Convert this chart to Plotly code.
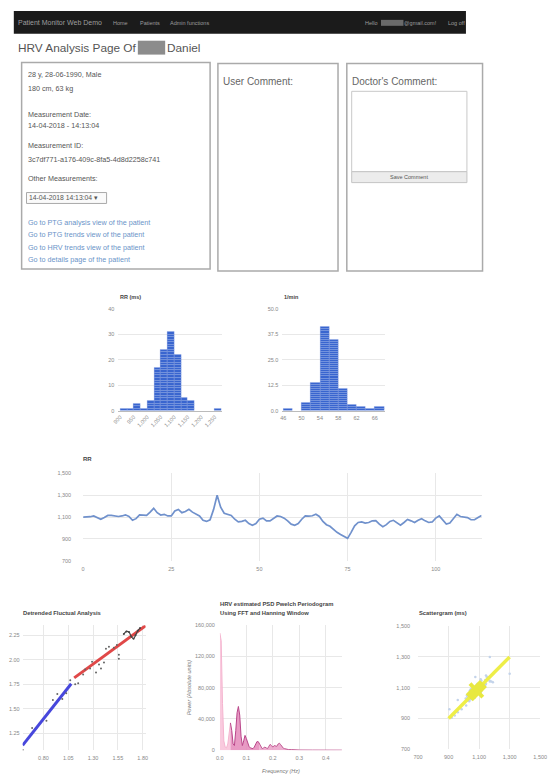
import plotly.graph_objects as go

W, H = 554, 784
FONT = "Liberation Sans, Arial, sans-serif"

# ---- RR interval series (ms), one value per beat ----
rr_ms = [1100, 1100, 1103, 1110, 1095, 1080, 1095, 1115, 1115, 1110,
         1105, 1110, 1120, 1105, 1070, 1085, 1120, 1118, 1115, 1145,
         1180, 1140, 1118, 1125, 1110, 1110, 1155, 1170, 1140, 1150,
         1170, 1145, 1125, 1110, 1070, 1060, 1075, 1170, 1300, 1190,
         1135, 1125, 1115, 1080, 1055, 1060, 1070, 1040, 1025, 1040,
         1080, 1090, 1065, 1065, 1090, 1110, 1105, 1090, 1065, 1035,
         1025, 1040, 1080, 1110, 1108, 1112, 1125, 1105, 1060, 1030,
         1015, 985, 960, 940, 920, 905, 960, 1020, 1050, 1055,
         1045, 1050, 1065, 1068, 1035, 1012, 1030, 1060, 1070, 1045,
         1025, 1050, 1078, 1065, 1050, 1070, 1085, 1065, 1050, 1055,
         1090, 1110, 1070, 1035, 1045, 1090, 1125, 1105, 1098, 1095,
         1075, 1075, 1095, 1115]
rr_beat = list(range(len(rr_ms)))

# ---- RR histogram (bucket left edges in ms, bucket width 25) ----
rr_bucket_left = [900, 925, 950, 975, 1000, 1025, 1050, 1075, 1100, 1125,
                  1150, 1175, 1200, 1225, 1250]
rr_bucket_count = [1, 1, 3, 1, 4, 17, 24, 31, 22, 5, 4, 0, 0, 0, 1]
rr_bucket_width = 25
rr_hist_ticks = [900, 950, 1000, 1050, 1100, 1150, 1200, 1250]
rr_hist_ticktext = ["900", "950", "1,000", "1,050", "1,100", "1,150", "1,200", "1,250"]

# ---- Heart-rate histogram (bucket left edges in 1/min, width 2) ----
hr_bucket_left = [46, 48, 50, 52, 54, 56, 58, 60, 62, 64, 66]
hr_bucket_count = [1, 0, 4, 14, 41, 35, 11, 3, 2, 1, 2]
hr_bucket_width = 2

# ---- Detrended fluctuation analysis (log n, log F(n)) ----
dfa_logn = [0.594, 0.686, 0.83, 0.895, 0.94, 0.99, 1.03, 1.07, 1.12, 1.15,
            1.20, 1.22, 1.27, 1.29, 1.33, 1.36, 1.38, 1.41, 1.43, 1.46,
            1.51, 1.54, 1.56, 1.56]
dfa_logf = [1.08, 1.307, 1.38, 1.59, 1.65, 1.60, 1.66, 1.79, 1.75, 1.76,
            1.85, 1.90, 1.91, 1.98, 1.87, 1.95, 1.91, 1.97, 2.11, 2.13,
            2.12, 2.15, 2.05, 2.01]
dfa_tail_logn = [1.61, 1.636, 1.662, 1.685, 1.708, 1.728, 1.751, 1.774]
dfa_tail_logf = [2.26, 2.287, 2.28, 2.236, 2.213, 2.247, 2.294, 2.321]
alpha1_logn = [0.59, 1.08]
alpha1_logf = [1.13, 1.755]
alpha2_logn = [1.11, 1.83]
alpha2_logf = [1.815, 2.345]

# ---- Welch PSD estimate (Hz, absolute units) ----
psd_freq = [0.000, 0.005, 0.010, 0.015, 0.020, 0.025, 0.030, 0.035, 0.040, 0.045,
            0.050, 0.055, 0.060, 0.065, 0.070, 0.075, 0.080, 0.085, 0.090, 0.095,
            0.100, 0.105, 0.110, 0.115, 0.120, 0.125, 0.130, 0.135, 0.140, 0.145,
            0.150, 0.155, 0.160, 0.165, 0.170, 0.175, 0.180, 0.185, 0.190, 0.195,
            0.200, 0.205, 0.210, 0.215, 0.220, 0.225, 0.230, 0.235, 0.240, 0.245,
            0.250, 0.255, 0.260, 0.270, 0.280, 0.300, 0.350, 0.400, 0.461]
psd_power = [150000, 140000, 60000, 12000, 4000, 3000, 8000, 22000, 35000, 25000,
             8000, 6000, 25000, 48000, 56000, 45000, 18000, 6000, 12000, 19000,
             15000, 8000, 5000, 3000, 2000, 2000, 4000, 8000, 11000, 11000,
             8000, 4000, 2000, 3000, 4000, 3000, 2000, 5000, 7500, 6000,
             4000, 6000, 5000, 5000, 8000, 9000, 7000, 4000, 2500, 2000,
             1500, 1000, 800, 800, 500, 300, 200, 100, 100]
band_vlf_end = 0.04
band_lf_end = 0.15

# ---- Poincare scattergram: RR(n) against RR(n+1) ----
poin_x = rr_ms[:-1]
poin_y = rr_ms[1:]
identity_ms = [900, 1300]
sd1_x = [1040, 1124]
sd1_y = [1126, 1039]
sd2_core = [1035, 1128]


def fx(x):
    return x / W


def fy(y):
    return 1 - y / H


annotations = []
shapes = []


def text(x, y, s, size=7.5, color="#555", anchor="left", **kw):
    annotations.append(dict(
        x=fx(x), y=fy(y), xref="paper", yref="paper", text=s, showarrow=False,
        xanchor=anchor, yanchor="middle", borderpad=0,
        font=dict(size=size, color=color, family=FONT), **kw))


def rect(x0, y0, x1, y1, line="#aaa", width=1.5, fill="rgba(0,0,0,0)"):
    shapes.append(dict(type="rect", xref="paper", yref="paper",
                       x0=fx(x0), x1=fx(x1), y0=fy(y1), y1=fy(y0),
                       line=dict(color=line, width=width), fillcolor=fill,
                       layer="below"))


# ---------- page chrome ----------
rect(8, 8, 471, 31, line="#1b1b1b", width=0, fill="#1b1b1b")
text(11, 20, "Patient Monitor Web Demo", size=7, color="#9d9d9d")
text(109, 20, "Home", size=5.5, color="#9d9d9d")
text(136, 20, "Patients", size=5.5, color="#9d9d9d")
text(167, 20, "Admin functions", size=5.5, color="#9d9d9d")
text(367, 20, "Hello", size=5.5, color="#9d9d9d")
rect(384, 17, 407, 23, line="#6a6a6a", width=0, fill="#6a6a6a")
text(407, 20, "@gmail.com!", size=5.5, color="#9d9d9d")
text(452, 20, "Log off", size=5.5, color="#9d9d9d")

text(11, 45, "HRV Analysis Page Of", size=11.8, color="#555")
rect(135, 38, 163, 52, line="#8c8c8c", width=0, fill="#8c8c8c")
text(164, 45, "Daniel", size=11.8, color="#555")

# patient info card
rect(16, 60, 209, 268)
info_lines = [
    (72, "28 y, 28-06-1990, Male"),
    (86, "180 cm, 63 kg"),
    (112, "Measurement Date:"),
    (123, "14-04-2018 - 14:13:04"),
    (144, "Measurement ID:"),
    (158, "3c7df771-a176-409c-8fa5-4d8d2258c741"),
    (177, "Other Measurements:"),
]
for yy, s in info_lines:
    text(21, yy, s, size=7.2, color="#555")
rect(21, 191, 103, 202, line="#aaa", width=1, fill="#fafafa")
text(23, 196.5, "14-04-2018 14:13:04 \u25be", size=6.8, color="#555")
link_lines = [
    (221, "Go to PTG analysis view of the patient"),
    (233, "Go to PTG trends view of the patient"),
    (246, "Go to HRV trends view of the patient"),
    (258, "Go to details page of the patient"),
]
for yy, s in link_lines:
    text(21, yy, s, size=7.2, color="#6a93c8")

# comment cards
rect(217, 61, 340, 270)
text(221, 79, "User Comment:", size=10, color="#666")
rect(349, 61, 488, 270)
text(353, 79, "Doctor's Comment:", size=10, color="#666")
rect(354, 89, 472, 170, line="#c8c8c8", width=1, fill="#ffffff")
rect(354, 170, 472, 181, line="#c4c4c4", width=1, fill="#ececec")
text(413, 175.5, "Save Comment", size=5.5, color="#555", anchor="center")

# ---------- charts ----------
fig = go.Figure()


def unit_blocks(lefts, counts, width):
    xs, bases = [], []
    for left, c in zip(lefts, counts):
        for k in range(c):
            xs.append(left + width / 2)
            bases.append(k)
    return xs, bases


BAR_BLUE = "#3a66cf"
BAR_EDGE = "#8ea8e4"
bx, bb = unit_blocks(rr_bucket_left, rr_bucket_count, rr_bucket_width)
fig.add_trace(go.Bar(x=bx, y=[1] * len(bx), base=bb, width=rr_bucket_width,
                     marker=dict(color=BAR_BLUE, line=dict(color=BAR_EDGE, width=0.3)),
                     xaxis="x", yaxis="y", hoverinfo="skip"))
hx, hb = unit_blocks(hr_bucket_left, hr_bucket_count, hr_bucket_width)
fig.add_trace(go.Bar(x=hx, y=[1] * len(hx), base=hb, width=hr_bucket_width,
                     marker=dict(color=BAR_BLUE, line=dict(color=BAR_EDGE, width=0.3)),
                     xaxis="x2", yaxis="y2", hoverinfo="skip"))

fig.add_trace(go.Scatter(x=rr_beat, y=rr_ms, mode="lines",
                         line=dict(color="#7091cc", width=1.7),
                         xaxis="x3", yaxis="y3", hoverinfo="skip"))

# DFA
fig.add_trace(go.Scatter(x=alpha1_logn, y=alpha1_logf, mode="lines",
                         line=dict(color="#4747dc", width=3),
                         xaxis="x4", yaxis="y4", hoverinfo="skip"))
fig.add_trace(go.Scatter(x=alpha2_logn, y=alpha2_logf, mode="lines",
                         line=dict(color="#e04848", width=3),
                         xaxis="x4", yaxis="y4", hoverinfo="skip"))
fig.add_trace(go.Scatter(x=dfa_logn, y=dfa_logf, mode="markers",
                         marker=dict(color="#666", size=2),
                         xaxis="x4", yaxis="y4", hoverinfo="skip"))
fig.add_trace(go.Scatter(x=dfa_tail_logn, y=dfa_tail_logf, mode="lines+markers",
                         line=dict(color="#444", width=1.2, shape="spline"),
                         marker=dict(color="#444", size=2),
                         xaxis="x4", yaxis="y4", hoverinfo="skip"))

# PSD bands
vlf_idx = [i for i, f in enumerate(psd_freq) if f <= band_vlf_end]
lf_idx = [i for i, f in enumerate(psd_freq) if band_vlf_end <= f <= band_lf_end]
hf_idx = [i for i, f in enumerate(psd_freq) if f >= band_lf_end]
for idx, fill, line in [(vlf_idx, "rgba(248,196,218,0.9)", "#f4b4cf"),
                        (lf_idx, "rgba(228,136,186,0.85)", "#b9478a"),
                        (hf_idx, "rgba(234,160,200,0.85)", "#c05a93")]:
    fig.add_trace(go.Scatter(x=[psd_freq[i] for i in idx], y=[psd_power[i] for i in idx],
                             mode="lines", fill="tozeroy", fillcolor=fill,
                             line=dict(color=line, width=1),
                             xaxis="x5", yaxis="y5", hoverinfo="skip"))

# Poincare
fig.add_trace(go.Scatter(x=poin_x, y=poin_y, mode="markers",
                         marker=dict(color="#c3d3ea", size=2.5),
                         xaxis="x6", yaxis="y6", hoverinfo="skip"))
fig.add_trace(go.Scatter(x=identity_ms, y=identity_ms, mode="lines",
                         line=dict(color="#eeee48", width=3.5),
                         xaxis="x6", yaxis="y6", hoverinfo="skip"))
fig.add_trace(go.Scatter(x=sd2_core, y=sd2_core, mode="lines",
                         line=dict(color="#e8e840", width=10),
                         xaxis="x6", yaxis="y6", hoverinfo="skip"))
fig.add_trace(go.Scatter(x=sd1_x, y=sd1_y, mode="lines",
                         line=dict(color="#e8e840", width=4),
                         xaxis="x6", yaxis="y6", hoverinfo="skip"))

TICK = dict(size=5.5, color="#888", family=FONT)
GRID = "#e8e8e8"


def ax(domain, rng, **kw):
    d = dict(domain=domain, range=rng, showgrid=True, gridcolor=GRID, gridwidth=1,
             zeroline=False, showline=False, ticks="", tickfont=TICK, fixedrange=True)
    d.update(kw)
    return d


xd = lambda a, b: [fx(a), fx(b)]
yd = lambda top, bottom: [fy(bottom), fy(top)]

layout = dict(
    width=W, height=H, margin=dict(l=0, r=0, t=0, b=0),
    paper_bgcolor="white", plot_bgcolor="white", showlegend=False,
    barmode="overlay", bargap=0,
    shapes=shapes,
    xaxis=ax(xd(115, 221), [893, 1276], tickvals=rr_hist_ticks, ticktext=rr_hist_ticktext,
             tickangle=-45, showgrid=False, anchor="y", showline=True, linecolor="#bbb"),
    yaxis=ax(yd(308, 411), [0, 40], tickvals=[0, 10, 20, 30, 40], anchor="x",
             ticklabelstandoff=3),
    xaxis2=ax(xd(283, 388), [45.8, 68.2], tickvals=[46, 50, 54, 58, 62, 66],
              showgrid=False, anchor="y2", showline=True, linecolor="#bbb",
              ticklabelstandoff=2),
    yaxis2=ax(yd(308, 411), [0, 50], tickvals=[0, 12.5, 25, 37.5, 50],
              ticktext=["0.0", "12.5", "25.0", "37.5", "50.0"], anchor="x2",
              ticklabelstandoff=3),
    xaxis3=ax(xd(79, 487), [0, 113], tickvals=[0, 25, 50, 75, 100], anchor="y3",
              ticklabelstandoff=4),
    yaxis3=ax(yd(474, 562), [700, 1500], tickvals=[700, 900, 1100, 1300, 1500],
              tickformat=",", anchor="x3", ticklabelstandoff=11),
    xaxis4=ax(xd(17, 143), [0.59, 1.83], tickvals=[0.80, 1.05, 1.30, 1.55, 1.80],
              tickformat=".2f", anchor="y4", ticklabelstandoff=3),
    yaxis4=ax(yd(627, 753), [1.08, 2.35], tickvals=[1.25, 1.50, 1.75, 2.00, 2.25],
              tickformat=".2f", anchor="x4", ticklabelstandoff=2),
    xaxis5=ax(xd(219, 344), [0, 0.461], tickvals=[0, 0.1, 0.2, 0.3, 0.4],
              tickformat=".1f", anchor="y5", ticklabelstandoff=3),
    yaxis5=ax(yd(627, 753), [0, 160000], tickvals=[0, 40000, 80000, 120000, 160000],
              tickformat=",", anchor="x5", ticklabelstandoff=4),
    xaxis6=ax(xd(422, 547), [700, 1500], tickvals=[700, 900, 1100, 1300, 1500],
              tickformat=",", anchor="y6", ticklabelstandoff=3),
    yaxis6=ax(yd(628, 752), [700, 1500], tickvals=[700, 900, 1100, 1300, 1500],
              tickformat=",", anchor="x6", ticklabelstandoff=7),
)

# chart titles
text(116, 296, "<b>RR (ms)</b>", size=5.5, color="#444")
text(284, 296, "<b>1/min</b>", size=5.5, color="#444")
text(78, 460, "<b>RR</b>", size=6, color="#444")
text(16, 615, "<b>Detrended Fluctual Analysis</b>", size=5.8, color="#444")
text(218, 606, "<b>HRV estimated PSD Pwelch Periodogram</b>", size=5.8, color="#444")
text(218, 615, "<b>Using FFT and Hanning Window</b>", size=5.8, color="#444")
text(422, 615, "<b>Scattergram (ms)</b>", size=5.8, color="#444")
text(187, 690, "<i>Power (Absolute units)</i>", size=5.5, color="#777", anchor="center", textangle=-90)
text(282, 774, "<i>Frequency (Hz)</i>", size=5.5, color="#777", anchor="center")

layout["annotations"] = annotations
fig.update_layout(**layout)

fig.write_html("out.html", config={"displayModeBar": False})
